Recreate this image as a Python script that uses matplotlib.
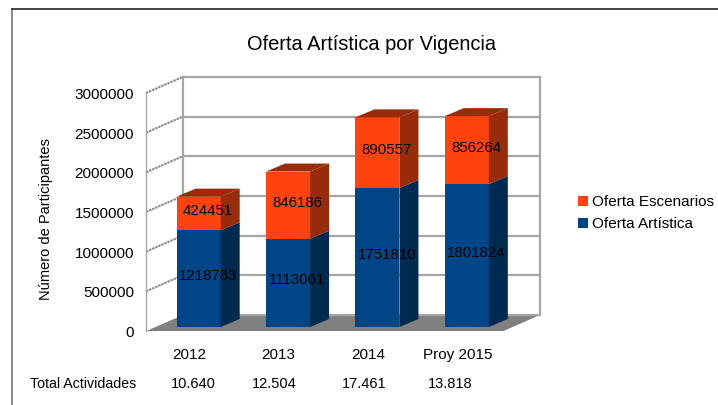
import numpy as np
import matplotlib
matplotlib.use("Agg")
import matplotlib.pyplot as plt
from matplotlib.patches import Polygon, Rectangle

plt.rcParams['font.family'] = ['Liberation Sans', 'DejaVu Sans']

# Data
years = ["2012", "2013", "2014", "Proy 2015"]
oferta_artistica = [1218783, 1113061, 1751810, 1801824]
oferta_escenarios = [424451, 846186, 890557, 856264]
total_actividades = ["10.640", "12.504", "17.461", "13.818"]
y_ticks = [0, 500000, 1000000, 1500000, 2000000, 2500000, 3000000]

W, H = 718, 406
fig = plt.figure(figsize=(W / 100, H / 100), dpi=100)

# background layer in pixels, for the outer frame
bg = fig.add_axes([0, 0, 1, 1])
bg.set_xlim(0, W)
bg.set_ylim(H, 0)
bg.axis("off")
bg.plot([12, 12], [10, H], color="#777777", lw=1.2)
bg.plot([12, W], [10, 10], color="#222222", lw=1.2)

# front plane of the 3D box
left, right, bottom, top = 146, 503.5, 332, 94
ax = fig.add_axes([left / W, 1 - bottom / H, (right - left) / W, (bottom - top) / H])
ax.set_xlim(0, 4)
ax.set_ylim(0, 3000000)
ax.axis("off")

px_x = 4 / (right - left)
px_y = 3000000 / (bottom - top)
depth_x, depth_y = 36.5 * px_x, 16 * px_y  # full depth of the box


def poly(pts, color, z, edge="none"):
    ax.add_patch(Polygon(pts, closed=True, facecolor=color, edgecolor=edge, lw=0.5, zorder=z, clip_on=False))


# floor, walls
ymax = y_ticks[-1]
poly([(0, 0), (4, 0), (4 + depth_x, depth_y), (depth_x, depth_y)], "#808080", 1)
poly([(0, 0), (depth_x, depth_y), (depth_x, ymax + depth_y), (0, ymax)], "white", 1)

grid = "#a6a6a6"
for v in y_ticks:
    ax.plot([depth_x, 4 + depth_x], [v + depth_y] * 2, color=grid, lw=1.6, zorder=2, clip_on=False)
    if v > 0:
        ax.plot([0, depth_x], [v, v + depth_y], color="#8c8c8c", lw=1.5, ls=(0, (1.2, 0.4)), zorder=2, clip_on=False)
    ax.text(-12 * px_x, v - 1 * px_y, str(v), ha="right", va="center", fontsize=11, color="black", clip_on=False)
ax.plot([depth_x, depth_x], [depth_y, ymax + depth_y], color=grid, lw=1.6, zorder=2, clip_on=False)
ax.plot([4 + depth_x, 4 + depth_x], [depth_y, ymax + depth_y], color=grid, lw=1.6, zorder=2, clip_on=False)
ax.plot([0, 0], [0, ymax], color=grid, lw=1.0, zorder=2, clip_on=False)

# stacked bars
bar_w = 44 * px_x
off_x, off_y = 8 * px_x, 4 * px_y  # bar front sits a little behind the box front
bar_dx, bar_dy = 19 * px_x, 8 * px_y
colors = {
    "blue": ("#004586", "#002a50"),
    "orange": ("#ff420e", "#982b09"),
}
for i in range(len(years)):
    x0 = i + 0.5 + off_x - bar_w / 2
    x1 = x0 + bar_w
    low = 0
    for vals, key in ((oferta_artistica, "blue"), (oferta_escenarios, "orange")):
        v = vals[i]
        front, shade = colors[key]
        y0, y1 = low + off_y, low + v + off_y
        poly([(x0, y0), (x1, y0), (x1, y1), (x0, y1)], front, 3 + i)
        poly([(x1, y0), (x1 + bar_dx, y0 + bar_dy), (x1 + bar_dx, y1 + bar_dy), (x1, y1)], shade, 3 + i)
        if key == "orange":
            poly([(x0, y1), (x1, y1), (x1 + bar_dx, y1 + bar_dy), (x0 + bar_dx, y1 + bar_dy)], shade, 3 + i)
        ax.text((x0 + x1 + bar_dx) / 2, (y0 + y1 + bar_dy) / 2 - 0.5 * px_y, str(v), ha="center", va="center",
                fontsize=10.8, color="black", zorder=20, clip_on=False)
        low += v
    ax.text(i + 0.5 - 1.5 * px_x, -23 * px_y, years[i], ha="center", va="center", fontsize=11, clip_on=False)

# the totals row was placed by hand in the original, not on the categories
total_x = [193, 274, 364, 450]
for x, t in zip(total_x, total_actividades):
    bg.text(x, 384, t, ha="center", va="center", fontsize=10.5)

# texts in pixel coordinates
bg.text(371.5, 44, "Oferta Artística por Vigencia", ha="center", va="center", fontsize=14.4)
bg.text(46, 219, "Número de Participantes", rotation=90, ha="center", va="center", fontsize=10.5)
bg.text(30, 384, "Total Actividades", ha="left", va="center", fontsize=10.2)

# legend
for y, color, label in ((202, "#ff420e", "Oferta Escenarios"), (224, "#004586", "Oferta Artística")):
    bg.add_patch(Rectangle((578, y - 5), 10, 10, facecolor=color, edgecolor="none"))
    bg.text(592, y, label, ha="left", va="center", fontsize=11)

fig.savefig("out.png", dpi=100)
